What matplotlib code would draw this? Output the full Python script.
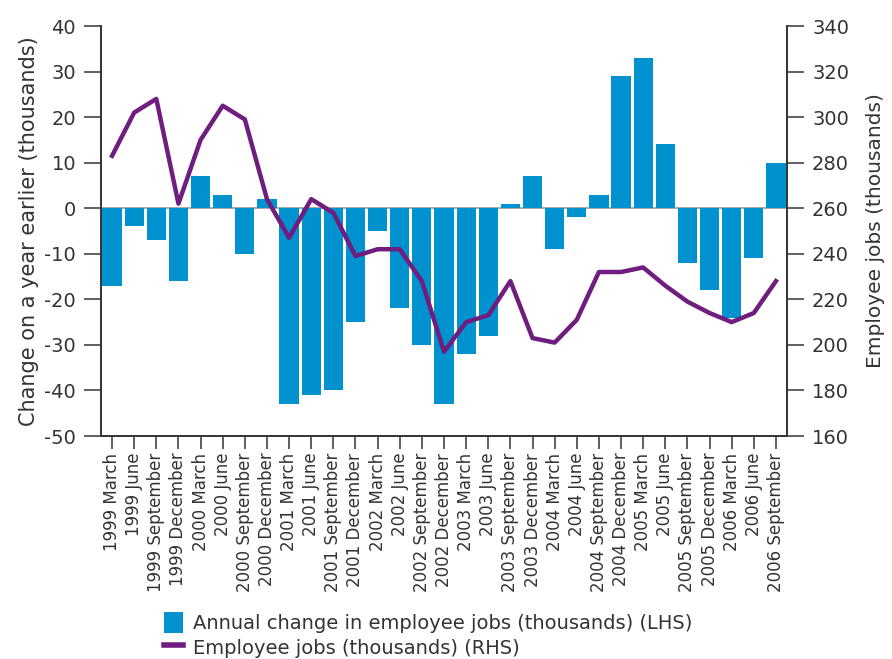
import matplotlib
matplotlib.use("Agg")
import matplotlib.pyplot as plt
from matplotlib.patches import Patch
from matplotlib.lines import Line2D

plt.rcParams['font.family'] = ['DejaVu Sans']
plt.rcParams['axes.unicode_minus'] = False

categories = ["1999 March", "1999 June", "1999 September", "1999 December",
              "2000 March", "2000 June", "2000 September", "2000 December",
              "2001 March", "2001 June", "2001 September", "2001 December",
              "2002 March", "2002 June", "2002 September", "2002 December",
              "2003 March", "2003 June", "2003 September", "2003 December",
              "2004 March", "2004 June", "2004 September", "2004 December",
              "2005 March", "2005 June", "2005 September", "2005 December",
              "2006 March", "2006 June", "2006 September"]
annual_change = [-17, -4, -7, -16, 7, 3, -10, 2, -43, -41, -40, -25, -5, -22, -30, -43,
                 -32, -28, 1, 7, -9, -2, 3, 29, 33, 14, -12, -18, -24, -11, 10]
employee_jobs = [283, 302, 308, 262, 290, 305, 299, 264, 247, 264, 258, 239, 242, 242, 228, 197,
                 210, 213, 228, 203, 201, 211, 232, 232, 234, 226, 219, 214, 210, 214, 228]

bar_color = "#0092CE"
line_color = "#6F1E7F"
text_color = "#333333"
tick_color = "#444444"

fig = plt.figure(figsize=(8.92, 6.59), dpi=100)
ax = fig.add_axes([101/892, 1-436/659, (787-101)/892, (436-26)/659])
x = list(range(len(categories)))
ax.bar(x, annual_change, width=0.87, color=bar_color, zorder=2)
ax.axhline(0, color="#999999", lw=1.2, zorder=1)
ax.set_xlim(-0.5, len(categories)-0.5)
ax.set_ylim(-50, 40)
ax.set_yticks(range(-50, 41, 10))
ax.set_xticks(x)
ax.set_xticklabels(categories, rotation=90)
ax.set_ylabel("Change on a year earlier (thousands)", fontsize=15, color=text_color, labelpad=4)

ax2 = ax.twinx()
ax2.plot(x, employee_jobs, color=line_color, lw=3.2, zorder=3)
ax2.set_ylim(160, 340)
ax2.set_yticks(range(160, 341, 20))
ax2.set_ylabel("Employee jobs (thousands)", fontsize=14.5, color=text_color, labelpad=12)

for a in (ax, ax2):
    a.spines['top'].set_visible(False)
    for s in ('left', 'right', 'bottom'):
        a.spines[s].set_color("#333333")
        a.spines[s].set_linewidth(1.2)
ax.tick_params(axis='y', labelsize=14, colors=tick_color, labelcolor=text_color,
               width=1.2, length=12, pad=6)
ax2.tick_params(axis='y', labelsize=14, colors=tick_color, labelcolor=text_color,
                width=1.2, length=12, pad=6)
ax.tick_params(axis='x', labelsize=12, colors=tick_color, labelcolor=text_color,
               width=1.2, length=9, pad=3)

handles = [Patch(facecolor=bar_color, edgecolor='none'),
           Line2D([0], [0], color=line_color, lw=4)]
labels = ["Annual change in employee jobs (thousands) (LHS)",
          "Employee jobs (thousands) (RHS)"]
fig.legend(handles, labels, loc='upper left', bbox_to_anchor=(154/892, 1-602/659),
           frameon=False, fontsize=14, handlelength=1.0, handleheight=1.3,
           labelspacing=0.2, handletextpad=0.5, borderpad=0, labelcolor=text_color)

fig.savefig("out.png", dpi=100)
